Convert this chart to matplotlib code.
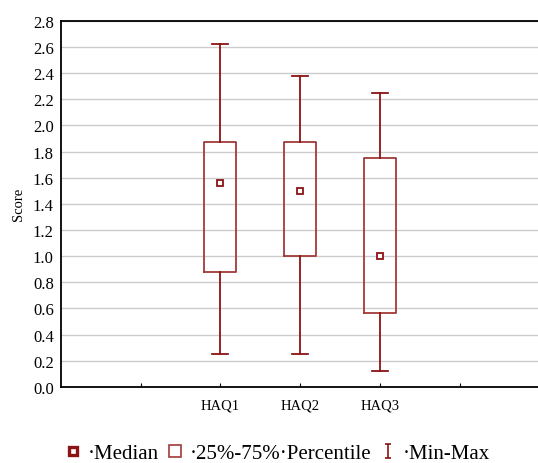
import numpy as np
import matplotlib
matplotlib.use("Agg")
import matplotlib.pyplot as plt
from matplotlib.lines import Line2D
from matplotlib.path import Path

plt.rcParams['font.family'] = ['Liberation Serif', 'DejaVu Serif']

# values
labels = ['HAQ1', 'HAQ2', 'HAQ3']
mins = [0.25, 0.25, 0.125]
q1 = [0.875, 1.0, 0.5625]
medians = [1.5625, 1.5, 1.0]
q3 = [1.875, 1.875, 1.75]
maxs = [2.625, 2.375, 2.25]

red = '#8b1414'
box_red = '#a23a3a'

fig = plt.figure(figsize=(5.38, 4.64), dpi=100)
ax = fig.add_axes([0.113, 0.164, 0.89, 0.789])

stats = []
for lab, lo, a, m, b, hi in zip(labels, mins, q1, medians, q3, maxs):
    stats.append({'label': lab, 'whislo': lo, 'q1': a, 'med': m, 'q3': b, 'whishi': hi, 'fliers': []})

positions = [2, 3, 4]
ax.bxp(stats, positions=positions, widths=0.4, capwidths=0.2, showfliers=False,
       boxprops=dict(color=box_red, linewidth=1.3),
       whiskerprops=dict(color=red, linewidth=1.3),
       capprops=dict(color=red, linewidth=1.3),
       medianprops=dict(visible=False), zorder=3)
ax.plot(positions, medians, linestyle='none', marker='s', markersize=5,
        markerfacecolor='white', markeredgecolor=red, markeredgewidth=1.3, zorder=4)

ax.set_xlim(0, 6)
ax.set_ylim(0, 2.8)
ax.set_xticks([1, 2, 3, 4, 5])
ax.set_xticklabels(['', 'HAQ1', 'HAQ2', 'HAQ3', ''], fontsize=10.5)
yt = np.arange(0, 2.81, 0.2)
ax.set_yticks(yt)
ax.set_yticklabels(['%.1f' % v for v in yt], fontsize=12)
ax.tick_params(axis='x', direction='in', length=3, pad=8)
ax.tick_params(axis='y', length=0, pad=5)
ax.yaxis.grid(True, color='#cccccc', linewidth=1.0)
ax.set_axisbelow(True)
ax.spines['right'].set_visible(False)
for s in ['top', 'bottom', 'left']:
    ax.spines[s].set_linewidth(1.3)
ax.set_ylabel('Score', fontsize=10.5, labelpad=6)

minmax = Path([(-0.5, 1), (0.5, 1), (0, 1), (0, -1), (-0.5, -1), (0.5, -1)],
              [Path.MOVETO, Path.LINETO, Path.MOVETO, Path.LINETO, Path.MOVETO, Path.LINETO])
handles = [
    Line2D([], [], linestyle='none', marker='s', markersize=6, markerfacecolor='white',
           markeredgecolor=red, markeredgewidth=2.4),
    Line2D([], [], linestyle='none', marker='s', markersize=9, markerfacecolor='white',
           markeredgecolor=box_red, markeredgewidth=1.2),
    Line2D([], [], linestyle='none', marker=minmax, markersize=10,
           markeredgecolor=red, markeredgewidth=1.2),
]
fig.legend(handles, ['\u00b7Median', '\u00b725%-75%\u00b7Percentile', '\u00b7Min-Max'],
           loc='lower center', bbox_to_anchor=(0.515, -0.04), ncol=3, frameon=False,
           fontsize=15, handlelength=0.8, handletextpad=0.3, columnspacing=0.4)

fig.savefig('out.png', dpi=100)
